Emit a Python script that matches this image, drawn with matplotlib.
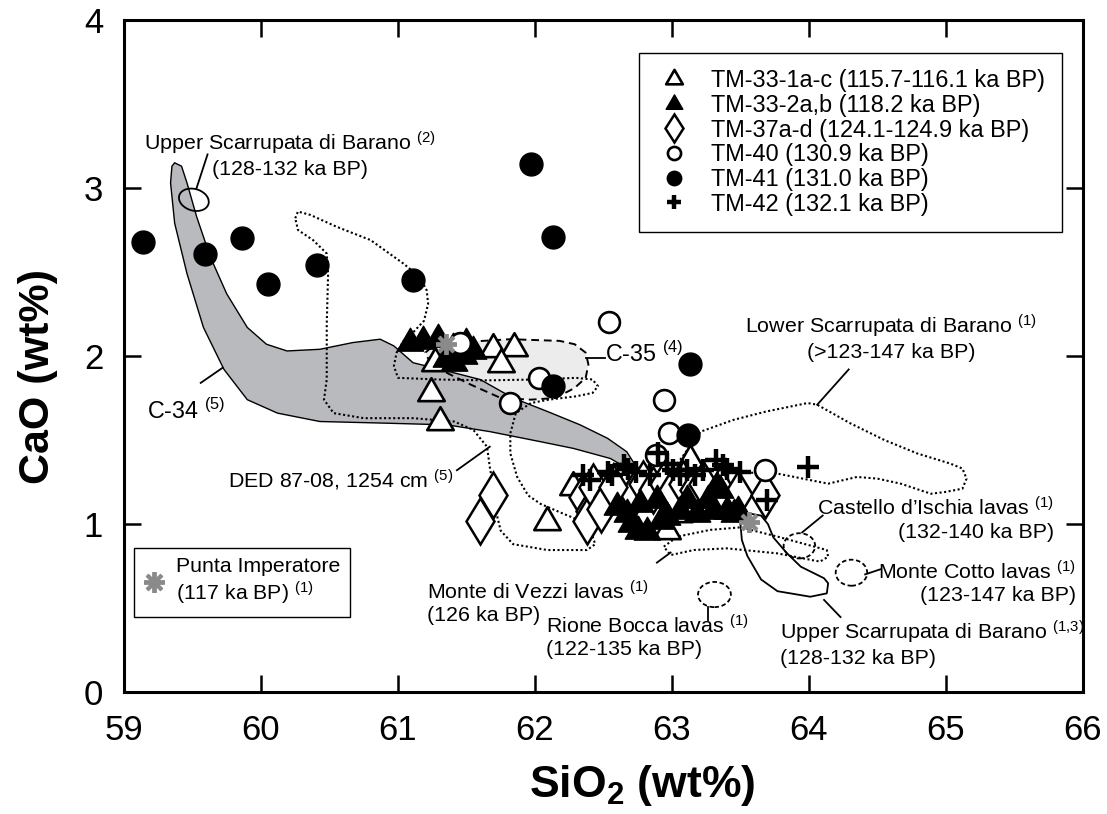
import matplotlib
matplotlib.use('Agg')
import matplotlib.pyplot as plt
from matplotlib.patches import Ellipse
from matplotlib.path import Path

plt.rcParams['font.family'] = 'Liberation Sans'
plt.rcParams['mathtext.fontset'] = 'custom'
plt.rcParams['mathtext.rm'] = 'Liberation Sans'
plt.rcParams['mathtext.it'] = 'Liberation Sans:italic'
plt.rcParams['mathtext.bf'] = 'Liberation Sans:bold'

# ---- samples: SiO2 / CaO (wt%) ----
tm331_si = [61.69, 61.85, 61.75, 61.27, 61.24, 61.31, 62.28, 62.09, 63.13, 62.96, 62.60, 62.90, 63.05]
tm331_ca = [2.04, 2.05, 1.95, 1.96, 1.78, 1.61, 1.22, 1.01, 1.38, 0.96, 1.22, 1.18, 1.06]

tm332_si = [61.09, 61.18, 61.29, 61.40, 61.50, 61.55, 61.35, 61.41, 61.48,
            62.70, 62.82, 62.67, 62.96, 63.06, 63.18, 63.30, 63.33, 63.40, 63.48,
            63.26, 63.11, 62.77, 62.89, 62.60, 62.75, 62.92, 63.35, 63.45]
tm332_ca = [2.08, 2.09, 2.10, 2.05, 2.08, 2.03, 1.98, 1.96, 2.00,
            1.00, 0.95, 1.06, 1.04, 1.08, 1.06, 1.08, 1.22, 1.08, 1.08,
            1.14, 1.14, 1.12, 1.14, 1.10, 0.96, 1.02, 1.20, 1.06]

tm37_si = [61.60, 61.69, 62.35, 62.40, 62.38, 62.42, 62.53, 62.62, 62.72, 62.79, 62.86,
           62.94, 63.01, 63.08, 63.16, 63.23, 63.35, 63.48, 63.68, 62.48, 62.57]
tm37_ca = [1.02, 1.17, 1.16, 1.08, 1.02, 1.22, 1.16, 1.22, 1.18, 1.24, 1.20,
           1.24, 1.20, 1.24, 1.20, 1.24, 1.20, 1.18, 1.17, 1.09, 1.22]

tm40_si = [62.54, 62.03, 61.82, 62.94, 62.98, 62.88, 63.68, 61.45]
tm40_ca = [2.20, 1.87, 1.72, 1.74, 1.54, 1.41, 1.32, 2.08]

tm41_si = [59.14, 59.59, 59.86, 60.05, 60.41, 61.11, 61.97, 62.13, 62.13, 63.13, 63.12]
tm41_ca = [2.68, 2.61, 2.70, 2.43, 2.54, 2.45, 3.14, 2.71, 1.82, 1.95, 1.53]

tm42_si = [62.35, 62.40, 62.53, 62.56, 62.65, 62.68, 62.74, 62.84, 62.90, 62.96, 63.01,
           63.06, 63.11, 63.17, 63.23, 63.32, 63.37, 63.40, 63.50, 63.99, 63.69]
tm42_ca = [1.29, 1.26, 1.31, 1.29, 1.35, 1.33, 1.31, 1.29, 1.42, 1.36, 1.32,
           1.29, 1.32, 1.29, 1.32, 1.38, 1.35, 1.33, 1.31, 1.34, 1.14]

punta_si = [61.35, 63.56]
punta_ca = [2.07, 1.01]

# ---- literature fields ----
c34_si = [59.37, 59.42, 59.46, 59.53, 59.63, 59.75, 59.90, 60.04, 60.19, 60.43, 60.67, 60.87,
          60.97, 61.11, 61.36, 61.60, 61.84, 62.09, 62.33, 62.53, 62.67, 62.74, 62.76,
          62.72, 62.55, 62.28, 62.04, 61.67, 61.36, 60.92, 60.43, 60.12, 59.90, 59.73,
          59.58, 59.46, 59.37, 59.34, 59.35, 59.37]
c34_ca = [3.15, 3.13, 3.03, 2.83, 2.59, 2.37, 2.17, 2.07, 2.03, 2.04, 2.08, 2.10,
          2.06, 1.96, 1.91, 1.86, 1.75, 1.67, 1.59, 1.51, 1.43, 1.34, 1.30,
          1.31, 1.39, 1.45, 1.49, 1.55, 1.59, 1.60, 1.61, 1.66, 1.74, 1.92,
          2.17, 2.49, 2.79, 3.03, 3.13, 3.15]

c35_si = [61.42, 61.82, 62.18, 62.29, 62.37, 62.39, 62.37, 62.29, 62.15, 61.97, 61.75,
          61.53, 61.38, 61.24, 61.20, 61.27, 61.42]
c35_ca = [2.08, 2.10, 2.09, 2.07, 2.02, 1.95, 1.87, 1.81, 1.75, 1.74, 1.75,
          1.83, 1.89, 1.95, 2.02, 2.07, 2.08]

ded_si = [60.25, 60.27, 60.36, 60.55, 60.80, 61.04, 61.16, 61.21, 61.22, 61.19, 61.11, 61.04,
          60.99, 60.97, 61.00, 61.30, 61.65, 62.00, 62.30, 62.42, 62.46, 62.42, 62.30, 62.10,
          61.97, 61.86, 61.82, 61.82, 61.87, 61.95, 62.04, 62.21, 62.33, 62.41, 62.44, 62.38,
          62.09, 61.84, 61.75, 61.72, 61.70, 61.67, 61.65, 61.55, 61.41, 61.11, 60.75, 60.53,
          60.46, 60.48, 60.48, 60.49, 60.48, 60.38, 60.27, 60.25]
ded_ca = [2.82, 2.86, 2.84, 2.77, 2.69, 2.55, 2.47, 2.39, 2.31, 2.21, 2.14, 2.09,
          2.02, 1.94, 1.87, 1.86, 1.855, 1.86, 1.87, 1.86, 1.82, 1.78, 1.76, 1.74,
          1.72, 1.66, 1.54, 1.42, 1.28, 1.17, 1.12, 1.06, 1.02, 0.95, 0.88, 0.845,
          0.845, 0.88, 0.96, 1.06, 1.20, 1.34, 1.46, 1.56, 1.61, 1.63, 1.63, 1.66,
          1.74, 1.86, 2.19, 2.49, 2.61, 2.69, 2.75, 2.82]

lsb_si = [63.04, 63.21, 63.45, 63.69, 63.99, 64.06, 64.30, 64.55, 64.79, 65.03, 65.12, 65.15,
          65.12, 64.99, 64.89, 64.67, 64.50, 64.35, 64.14, 63.77, 63.40, 63.04]
lsb_ca = [1.36, 1.55, 1.62, 1.67, 1.72, 1.71, 1.60, 1.50, 1.42, 1.36, 1.33, 1.27,
          1.21, 1.19, 1.18, 1.24, 1.27, 1.28, 1.24, 1.30, 1.31, 1.36]

mvz_si = [62.94, 63.04, 63.28, 63.50, 63.77, 64.04, 64.13, 64.14, 64.08, 63.77, 63.40, 63.16, 62.99, 62.94]
mvz_ca = [0.865, 0.925, 0.965, 0.98, 0.925, 0.865, 0.845, 0.805, 0.776, 0.825, 0.855, 0.845, 0.815, 0.865]

usb_si = [63.50, 63.51, 63.55, 63.65, 63.77, 64.01, 64.13, 64.14, 64.11, 63.94, 63.84, 63.74,
          63.70, 63.65, 63.58, 63.51, 63.50]
usb_ca = [1.00, 0.905, 0.81, 0.67, 0.60, 0.567, 0.587, 0.647, 0.677, 0.746, 0.825, 0.92,
          1.00, 1.05, 1.06, 1.03, 1.00]

# small fields as ellipses: centre SiO2, centre CaO, width, height
usb2_ell = (59.51, 2.93, 0.22, 0.13)
castello_ell = (63.93, 0.87, 0.23, 0.15)
cotto_ell = (64.31, 0.71, 0.23, 0.155)
rione_ell = (63.31, 0.58, 0.24, 0.15)

# leader lines (x0, y0, x1, y1)
leaders = [(59.61, 3.20, 59.53, 3.00), (59.56, 1.84, 59.72, 1.93), (61.43, 1.32, 61.67, 1.46),
           (62.37, 1.99, 62.51, 1.99), (64.29, 1.92, 64.06, 1.71), (63.95, 0.95, 64.10, 1.05),
           (64.41, 0.70, 64.52, 0.73), (62.89, 0.77, 62.99, 0.83), (63.26, 0.505, 63.26, 0.43),
           (64.11, 0.548, 64.23, 0.446)]

dotted = (0, (1, 1.2))

fig, ax = plt.subplots(figsize=(11.07, 8.14), dpi=100)
fig.subplots_adjust(left=0.112, right=0.9783, top=0.9754, bottom=0.1499)

ax.fill(c35_si, c35_ca, color='#ececec', lw=0, zorder=1)
ax.fill(c34_si, c34_ca, facecolor='#b9babe', edgecolor='k', lw=1.0, zorder=1.2)
ax.plot(c35_si, c35_ca, color='k', lw=1.4, ls=(0, (4, 2.5)), zorder=1.5)
ax.plot(ded_si, ded_ca, color='k', lw=1.5, ls=dotted, zorder=1.5)
ax.plot(lsb_si, lsb_ca, color='k', lw=1.5, ls=dotted, zorder=1.5)
ax.plot(mvz_si, mvz_ca, color='k', lw=1.5, ls=dotted, zorder=1.5)
ax.plot(usb_si, usb_ca, color='k', lw=1.3, zorder=1.5)

ax.add_patch(Ellipse(usb2_ell[:2], usb2_ell[2], usb2_ell[3], angle=-10, fill=False, ec='k', lw=1.3, zorder=1.6))
for e in [castello_ell, cotto_ell, rione_ell]:
    ax.add_patch(Ellipse(e[:2], e[2], e[3], fill=False, ec='k', lw=1.3, ls=(0, (2.5, 1.5)), zorder=1.6))

for x0, y0, x1, y1 in leaders:
    ax.plot([x0, x1], [y0, y1], color='k', lw=1.3, zorder=1.6)

tri = Path([(0, 0.577), (-0.5, -0.289), (0.5, -0.289), (0, 0.577)], closed=True)
h1, = ax.plot(tm331_si, tm331_ca, ls='none', marker=tri, ms=22, mfc='white', mec='k', mew=1.9, zorder=3,
              label='TM-33-1a-c (115.7-116.1 ka BP)')
h3, = ax.plot(tm37_si, tm37_ca, ls='none', marker='d', ms=23, mfc='white', mec='k', mew=1.8, zorder=3.1,
              label='TM-37a-d (124.1-124.9 ka BP)')
h2, = ax.plot(tm332_si, tm332_ca, ls='none', marker=tri, ms=22, mfc='k', mec='k', mew=1.0, zorder=3.2,
              label='TM-33-2a,b (118.2 ka BP)')
h4, = ax.plot(tm40_si, tm40_ca, ls='none', marker='o', ms=15, mfc='white', mec='k', mew=1.9, zorder=3.3,
              label='TM-40 (130.9 ka BP)')
h5, = ax.plot(tm41_si, tm41_ca, ls='none', marker='o', ms=16.5, mfc='k', mec='k', zorder=3.4,
              label='TM-41 (131.0 ka BP)')
h6, = ax.plot(tm42_si, tm42_ca, ls='none', marker='+', ms=16, mec='k', mew=3.2, zorder=3.5,
              label='TM-42 (132.1 ka BP)')
hp, = ax.plot(punta_si, punta_ca, ls='none', marker=(8, 2, 0), ms=15, mec='#8a8a8a', mew=2.8, zorder=3.6,
              label='Punta Imperatore\n(117 ka BP) $^{(1)}$')

leg = ax.legend(handles=[h1, h2, h3, h4, h5, h6], loc='upper right', bbox_to_anchor=(0.978, 0.951),
                borderaxespad=0, fontsize=16.9, markerscale=0.63, frameon=True, fancybox=False,
                edgecolor='k', framealpha=1, borderpad=0.7, handlelength=1.6, handletextpad=0.8,
                labelspacing=0.07)
leg.get_frame().set_linewidth(1.0)
ax.add_artist(leg)
leg2 = ax.legend(handles=[hp], loc='lower left', bbox_to_anchor=(0.0104, 0.1116), borderaxespad=0,
                 fontsize=15.3, frameon=True, fancybox=False, edgecolor='k', framealpha=1,
                 borderpad=0.45, handlelength=1.0, handletextpad=0.55)
leg2.get_frame().set_linewidth(1.0)

fs = 15.4
ax.text(60.21, 3.20, 'Upper Scarrupata di Barano $^{(2)}$\n(128-132 ka BP)', fontsize=fs,
        ha='center', va='center', multialignment='center')
ax.text(59.17, 1.67, 'C-34 $^{(5)}$', fontsize=16.8, ha='left', va='center')
ax.text(61.40, 1.26, 'DED 87-08, 1254 cm $^{(5)}$', fontsize=fs, ha='right', va='center')
ax.text(62.51, 2.01, 'C-35 $^{(4)}$', fontsize=16.8, ha='left', va='center')
ax.text(64.60, 2.11, 'Lower Scarrupata di Barano $^{(1)}$\n(>123-147 ka BP)', fontsize=fs,
        ha='center', va='center', multialignment='center')
ax.text(65.79, 1.03, 'Castello d\u2019Ischia lavas $^{(1)}$\n(132-140 ka BP)', fontsize=fs,
        ha='right', va='center', multialignment='right')
ax.text(65.95, 0.65, 'Monte Cotto lavas $^{(1)}$\n(123-147 ka BP)', fontsize=fs,
        ha='right', va='center', multialignment='right')
ax.text(61.21, 0.548, 'Monte di Vezzi lavas $^{(1)}$', fontsize=fs, ha='left', va='baseline')
ax.text(61.21, 0.423, '(126 ka BP)', fontsize=fs, ha='left', va='baseline')
ax.text(62.08, 0.33, 'Rione Bocca lavas $^{(1)}$\n(122-135 ka BP)', fontsize=fs,
        ha='left', va='center', multialignment='left')
ax.text(63.79, 0.29, 'Upper Scarrupata di Barano $^{(1{,}3)}$\n(128-132 ka BP)', fontsize=fs,
        ha='left', va='center', multialignment='left')

ax.set_xlim(59, 66)
ax.set_ylim(0, 4)
ax.set_xticks(range(59, 67))
ax.set_yticks(range(0, 5))
ax.tick_params(direction='in', length=12, width=1.8, top=True, right=True, labelsize=25)
ax.tick_params(axis='x', pad=16)
ax.tick_params(axis='y', pad=15)
for s in ax.spines.values():
    s.set_linewidth(2.2)

ax.set_xlabel(r'SiO$_{\mathbf{2}}$ (wt%)', fontsize=32, fontweight='bold')
ax.set_ylabel('CaO (wt%)', fontsize=31, fontweight='bold')
ax.xaxis.set_label_coords(0.54, -0.105)
ax.yaxis.set_label_coords(-0.069, 0.47)

plt.savefig('out.png', dpi=100)
